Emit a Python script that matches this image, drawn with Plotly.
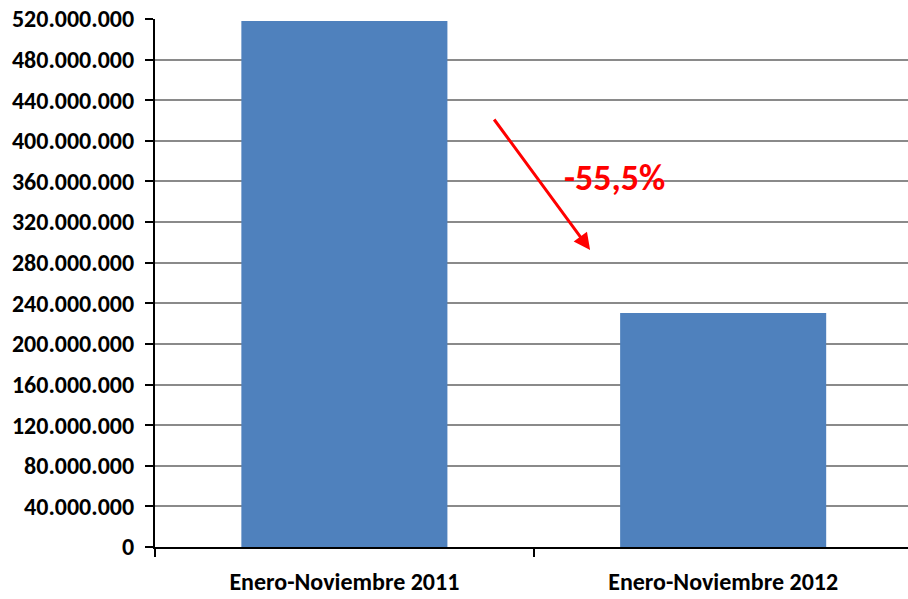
import plotly.graph_objects as go

# Periods compared and their totals
periods = ["Enero-Noviembre 2011", "Enero-Noviembre 2012"]
totals = [518000000, 230500000]
change_label = "-55,5%"

y_ticks = list(range(0, 520000001, 40000000))

FONT = "Carlito, Calibri, Lato, sans-serif"

fig = go.Figure()
fig.add_trace(go.Bar(
    x=periods,
    y=totals,
    marker=dict(color="#4F81BD", line=dict(width=0)),
    hoverinfo="skip",
))

# Downward arrow between the two bars with the change label
fig.add_annotation(
    x=0.6487, y=292500000, ax=0.3925, ay=422500000,
    xref="x", yref="y", axref="x", ayref="y",
    text="", showarrow=True, arrowhead=2, arrowsize=1.1,
    arrowwidth=3, arrowcolor="#FF0000",
)
fig.add_annotation(
    x=0.712, y=363400000, xref="x", yref="y",
    text=change_label, showarrow=False,
    font=dict(family=FONT, size=36, color="#FF0000", weight="bold"),
)

fig.update_layout(
    width=908, height=599,
    margin=dict(l=155, r=0, t=19, b=52),
    paper_bgcolor="white", plot_bgcolor="rgba(0,0,0,0)",
    separators=",.",
    bargap=0.456,
    showlegend=False,
    font=dict(family=FONT, color="#000000"),
)
fig.update_yaxes(
    range=[0, 520000000],
    tickvals=y_ticks,
    tickformat=",d",
    tickfont=dict(family=FONT, size=24, color="#000000", weight="bold"),
    ticks="outside", ticklen=8, tickwidth=2, tickcolor="#000000",
    showline=True, linecolor="#000000", linewidth=2,
    showgrid=True, gridcolor="#8A8A8A", gridwidth=2,
    zeroline=False,
    ticklabelstandoff=6,
)
fig.update_xaxes(
    range=[-0.5, 1.488],
    tickfont=dict(family=FONT, size=24, color="#000000", weight="bold"),
    ticks="outside", ticklen=8, tickwidth=2, tickcolor="#000000",
    tickson="boundaries",
    showline=True, linecolor="#000000", linewidth=2,
    showgrid=False, zeroline=False,
    ticklabelstandoff=12,
)

fig.write_html("out.html")
